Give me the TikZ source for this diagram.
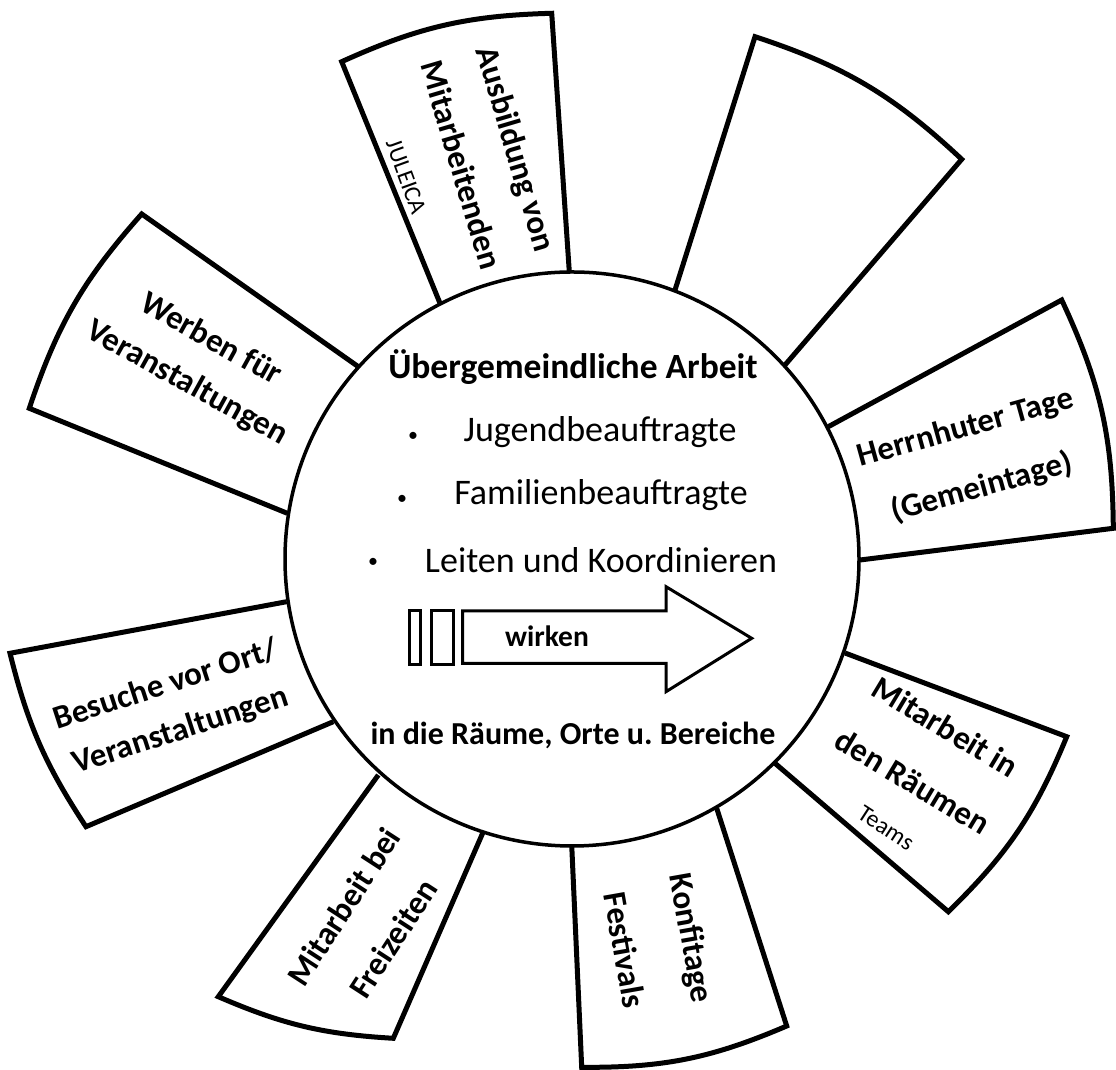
\documentclass[tikz,border=0pt]{standalone}
\usepackage{fontspec}
\setmainfont{Carlito}
\usetikzlibrary{positioning}

\begin{document}
\begin{tikzpicture}[
    x=1pt, y=1pt,
    petal/.style={line width=5pt, line join=miter},
    hub/.style={circle, draw, line width=3.5pt, fill=white, minimum size=574pt, inner sep=0pt},
    petaltext/.style={font=\bfseries\fontsize{33}{#1}\selectfont, align=center, inner sep=0pt},
    boldtext/.style={font=\bfseries\fontsize{32}{38}\selectfont, inner sep=0pt},
    listtext/.style={font=\fontsize{36}{42}\selectfont, inner sep=0pt},
    smalltext/.style={font=\fontsize{24}{28}\selectfont, inner sep=0pt},
    bulletdot/.style={font=\fontsize{20}{24}\selectfont, inner sep=0pt},
    bar/.style={draw, line width=3pt}
]
\useasboundingbox (0,0) rectangle (1116,1070);

% Petals around the hub
\draw[petal] (569.3,798.3) -- (551.7,1056.7) to[bend right=11.4] (341.7,1008.3) -- (440,766.7);
\draw[petal] (785,705) -- (961.7,910.7) to[bend right=12.5] (755,1033.3) -- (675,780);
\draw[petal] (860,510) -- (1113.3,541.7) to[bend right=12.3] (1061.7,770) -- (828.3,643.3);
\draw[petal] (775,306.7) -- (948.3,158.3) to[bend right=11.7] (1066.7,333.3) -- (845,417);
\draw[petal] (571.7,225) -- (581.7,2.7) to[bend right=11.8] (786.7,44) -- (716.7,261.7);
\draw[petal] (378.3,295) -- (218.3,73.3) to[bend right=10] (393.3,31.7) -- (483.3,238.3);
\draw[petal] (286.7,468.3) -- (10,416.7) to[bend right=9.7] (86,243.3) -- (333.3,348.3);
\draw[petal] (358.3,703.3) -- (141.7,856) to[bend right=11.6] (29.3,661.7) -- (287.3,556.7);

% Hub
\node[hub] (hub) at (572,511) {};

% Petal texts
\node[petaltext=57.5, rotate=-73.5] (ausbildung) at (489.2,913.3) {Ausbildung von\\Mitarbeitenden};
\node[smalltext, rotate=-70] (juleica) at (406,893.3) {JULEICA};
\node[petaltext=62, rotate=15.5] (herrnhut) at (973.7,611.7) {Herrnhuter Tage\\(Gemeintage)};
\node[petaltext=63.5, rotate=-31] (raeume) at (929.2,315.8) {Mitarbeit in\\den Räumen};
\node[smalltext, rotate=-33] (teams) at (886,242) {Teams};
\node[petaltext=68.6, rotate=-80] (konfi) at (658.7,126) {Konfitage\\Festivals};
\node[petaltext=59.1, rotate=57] (freizeit) at (368.3,147.5) {Mitarbeit bei\\Freizeiten};
\node[petaltext=47.9, rotate=18] (besuche) at (173.3,361.8) {Besuche vor Ort/\\Veranstaltungen};
\node[petaltext=49.5, rotate=-29] (werben) at (198.7,708.3) {Werben für\\Veranstaltungen};

% Hub texts
\node[boldtext, font=\bfseries\fontsize{35.5}{42}\selectfont] (title) at (573,703.3) {Übergemeindliche Arbeit};
\node[bulletdot] (dot1) at (413,633.3) {\textbullet};
\node[listtext] (jugend) at (600,638.3) {Jugendbeauftragte};
\node[bulletdot] (dot2) at (402,570) {\textbullet};
\node[listtext] (familie) at (601,575) {Familienbeauftragte};
\node[bulletdot] (dot3) at (373,506.7) {\textbullet};
\node[listtext] (leiten) at (601,510) {Leiten und Koordinieren};

% Arrow
\draw[bar] (409,405) rectangle (420.7,459);
\draw[bar] (431,405) rectangle (453.3,459);
\draw[bar] (462.7,406.7) -- (666,406.7) -- (666,378.3) -- (751.7,431.7)
    -- (666,483.3) -- (666,459) -- (462.7,459) -- cycle;
\node[boldtext, font=\bfseries\fontsize{29.5}{34}\selectfont] (wirken) at (547,433.3) {wirken};

\node[boldtext] (bereiche) at (573,335) {in die Räume, Orte u.\ Bereiche};

\end{tikzpicture}
\end{document}
